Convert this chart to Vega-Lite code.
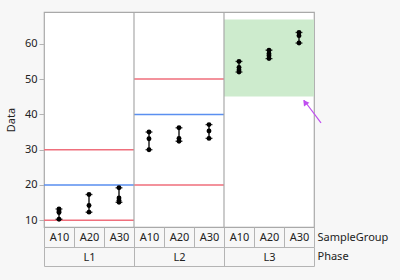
{
  "$schema": "https://vega.github.io/schema/vega-lite/v6.json",
  "width": 270,
  "height": 215,
  "autosize": {"type": "none"},
  "padding": {"left": 44, "top": 12, "right": 86, "bottom": 53},
  "background": "#f7f7f7",
  "config": {
    "view": {"stroke": "#a9a9a9", "strokeWidth": 1.2, "fill": "white"},
    "font": "Noto Sans",
    "axis": {
      "labelFont": "Noto Sans", "labelFontSize": 11, "labelColor": "#222",
      "titleFont": "Noto Sans", "titleFontSize": 11, "titleFontWeight": "normal", "titleColor": "#222",
      "domainColor": "#b4b4b4", "tickColor": "#b4b4b4", "grid": false
    }
  },
  "layer": [
    {
      "layer": [
        {
          "data": {"values": [{"Phase": "L3", "lo": 45.1, "hi": 66.9}]},
          "mark": {"type": "rect", "fill": "#cdebcd"},
          "encoding": {
            "x": {
              "field": "Phase", "type": "nominal",
              "scale": {"type": "band", "domain": ["L1", "L2", "L3"], "paddingInner": 0, "paddingOuter": 0},
              "axis": {
                "orient": "bottom", "offset": 39, "tickBand": "extent", "tickSize": -19,
                "labelPadding": 4, "labelAngle": 0, "title": "Phase",
                "titleX": 273, "titleY": -10, "titleAlign": "left", "titleBaseline": "middle", "titleAngle": 0
              }
            },
            "y": {
              "field": "lo", "type": "quantitative", "title": "Data",
              "scale": {"domain": [8.1, 69], "nice": false, "zero": false},
              "axis": {"values": [10, 20, 30, 40, 50, 60], "domain": false, "tickSize": 5, "labelPadding": 2, "titlePadding": 8}
            },
            "y2": {"field": "hi"}
          }
        },
        {
          "data": {"values": [
            {"Phase": "L1", "Line": "LCL", "value": 10},
            {"Phase": "L1", "Line": "CL", "value": 20},
            {"Phase": "L1", "Line": "UCL", "value": 30},
            {"Phase": "L2", "Line": "LCL", "value": 20},
            {"Phase": "L2", "Line": "CL", "value": 40},
            {"Phase": "L2", "Line": "UCL", "value": 50}
          ]},
          "mark": {"type": "rect", "filled": false, "strokeWidth": 1.5},
          "encoding": {
            "x": {"field": "Phase", "type": "nominal"},
            "y": {"field": "value", "type": "quantitative", "title": "Data", "scale": {"domain": [8.1, 69], "nice": false, "zero": false}},
            "y2": {"field": "value"},
            "color": {"field": "Line", "type": "nominal", "scale": {"domain": ["LCL", "CL", "UCL"], "range": ["#ef6f7c", "#5a8ff0", "#ef6f7c"]}, "legend": null}
          }
        },
        {
          "data": {"values": [{"Phase": "L2"}, {"Phase": "L3"}]},
          "mark": {"type": "rule", "color": "#a9a9a9", "strokeWidth": 1.2},
          "encoding": {"x": {"field": "Phase", "type": "nominal", "bandPosition": 0}}
        }
      ]
    },
    {
      "data": {"values": [
        {"Phase": "L1", "SampleGroup": "A10", "Data": 13.2},
        {"Phase": "L1", "SampleGroup": "A10", "Data": 12.6},
        {"Phase": "L1", "SampleGroup": "A10", "Data": 12.2},
        {"Phase": "L1", "SampleGroup": "A10", "Data": 10.3},
        {"Phase": "L1", "SampleGroup": "A20", "Data": 17.3},
        {"Phase": "L1", "SampleGroup": "A20", "Data": 14.2},
        {"Phase": "L1", "SampleGroup": "A20", "Data": 12.3},
        {"Phase": "L1", "SampleGroup": "A30", "Data": 19.2},
        {"Phase": "L1", "SampleGroup": "A30", "Data": 16.3},
        {"Phase": "L1", "SampleGroup": "A30", "Data": 15.6},
        {"Phase": "L1", "SampleGroup": "A30", "Data": 15.1},
        {"Phase": "L2", "SampleGroup": "A10", "Data": 35.0},
        {"Phase": "L2", "SampleGroup": "A10", "Data": 33.1},
        {"Phase": "L2", "SampleGroup": "A10", "Data": 30.0},
        {"Phase": "L2", "SampleGroup": "A20", "Data": 36.2},
        {"Phase": "L2", "SampleGroup": "A20", "Data": 33.2},
        {"Phase": "L2", "SampleGroup": "A20", "Data": 32.4},
        {"Phase": "L2", "SampleGroup": "A30", "Data": 37.1},
        {"Phase": "L2", "SampleGroup": "A30", "Data": 35.3},
        {"Phase": "L2", "SampleGroup": "A30", "Data": 33.2},
        {"Phase": "L3", "SampleGroup": "A10", "Data": 55.0},
        {"Phase": "L3", "SampleGroup": "A10", "Data": 53.3},
        {"Phase": "L3", "SampleGroup": "A10", "Data": 52.6},
        {"Phase": "L3", "SampleGroup": "A10", "Data": 52.0},
        {"Phase": "L3", "SampleGroup": "A20", "Data": 58.2},
        {"Phase": "L3", "SampleGroup": "A20", "Data": 57.2},
        {"Phase": "L3", "SampleGroup": "A20", "Data": 56.6},
        {"Phase": "L3", "SampleGroup": "A20", "Data": 55.8},
        {"Phase": "L3", "SampleGroup": "A30", "Data": 63.2},
        {"Phase": "L3", "SampleGroup": "A30", "Data": 62.3},
        {"Phase": "L3", "SampleGroup": "A30", "Data": 60.2}
      ]},
      "transform": [{"calculate": "datum.Phase + ' ' + datum.SampleGroup", "as": "Group"}],
      "layer": [
        {
          "transform": [{"aggregate": [{"op": "min", "field": "Data", "as": "lo"}, {"op": "max", "field": "Data", "as": "hi"}], "groupby": ["Group"]}],
          "layer": [
            {
              "mark": {"type": "rule", "color": "black", "strokeWidth": 1.3},
              "encoding": {
                "x": {
                  "field": "Group", "type": "nominal",
                  "scale": {"type": "band", "domain": ["L1 A10", "L1 A20", "L1 A30", "L2 A10", "L2 A20", "L2 A30", "L3 A10", "L3 A20", "L3 A30"], "paddingInner": 0, "paddingOuter": 0},
                  "axis": {
                    "orient": "bottom", "offset": 20, "tickBand": "extent", "tickSize": -20,
                    "labelPadding": 4, "labelAngle": 0, "labelExpr": "split(datum.label, ' ')[1]",
                    "title": "SampleGroup", "titleX": 273, "titleY": -10, "titleAlign": "left", "titleBaseline": "middle", "titleAngle": 0
                  }
                },
                "y": {"field": "lo", "type": "quantitative", "title": "Data", "scale": {"domain": [8.1, 69], "nice": false, "zero": false}},
                "y2": {"field": "hi"}
              }
            },
            {
              "mark": {"type": "tick", "orient": "horizontal", "color": "black", "size": 7, "thickness": 1.3},
              "encoding": {
                "x": {"field": "Group", "type": "nominal"},
                "y": {"field": "lo", "type": "quantitative", "title": "Data", "scale": {"domain": [8.1, 69], "nice": false, "zero": false}}
              }
            },
            {
              "mark": {"type": "tick", "orient": "horizontal", "color": "black", "size": 7, "thickness": 1.3},
              "encoding": {
                "x": {"field": "Group", "type": "nominal"},
                "y": {"field": "hi", "type": "quantitative", "title": "Data", "scale": {"domain": [8.1, 69], "nice": false, "zero": false}}
              }
            }
          ]
        },
        {
          "mark": {"type": "circle", "color": "black", "size": 24, "opacity": 1},
          "encoding": {
            "x": {"field": "Group", "type": "nominal"},
            "y": {"field": "Data", "type": "quantitative", "title": "Data", "scale": {"domain": [8.1, 69], "nice": false, "zero": false}}
          }
        },
        {
          "data": {"values": [{"Phase": "L3", "SampleGroup": "A30", "tip": 44.0, "tail": 37.6}]},
          "transform": [{"calculate": "datum.Phase + ' ' + datum.SampleGroup", "as": "Group"}],
          "layer": [
            {
              "mark": {"type": "rule", "color": "#c04ef0", "strokeWidth": 1.2, "xOffset": 5, "x2Offset": 22},
              "encoding": {
                "x": {"field": "Group", "type": "nominal"},
                "x2": {"field": "Group"},
                "y": {"field": "tip", "type": "quantitative", "title": "Data", "scale": {"domain": [8.1, 69], "nice": false, "zero": false}},
                "y2": {"field": "tail"}
              }
            },
            {
              "mark": {"type": "point", "shape": "triangle-up", "filled": true, "color": "#c04ef0", "opacity": 1, "size": 45, "angle": 324, "xOffset": 6, "yOffset": 2},
              "encoding": {
                "x": {"field": "Group", "type": "nominal"},
                "y": {"field": "tip", "type": "quantitative", "title": "Data", "scale": {"domain": [8.1, 69], "nice": false, "zero": false}}
              }
            }
          ]
        }
      ]
    }
  ],
  "resolve": {"scale": {"x": "independent"}}
}
